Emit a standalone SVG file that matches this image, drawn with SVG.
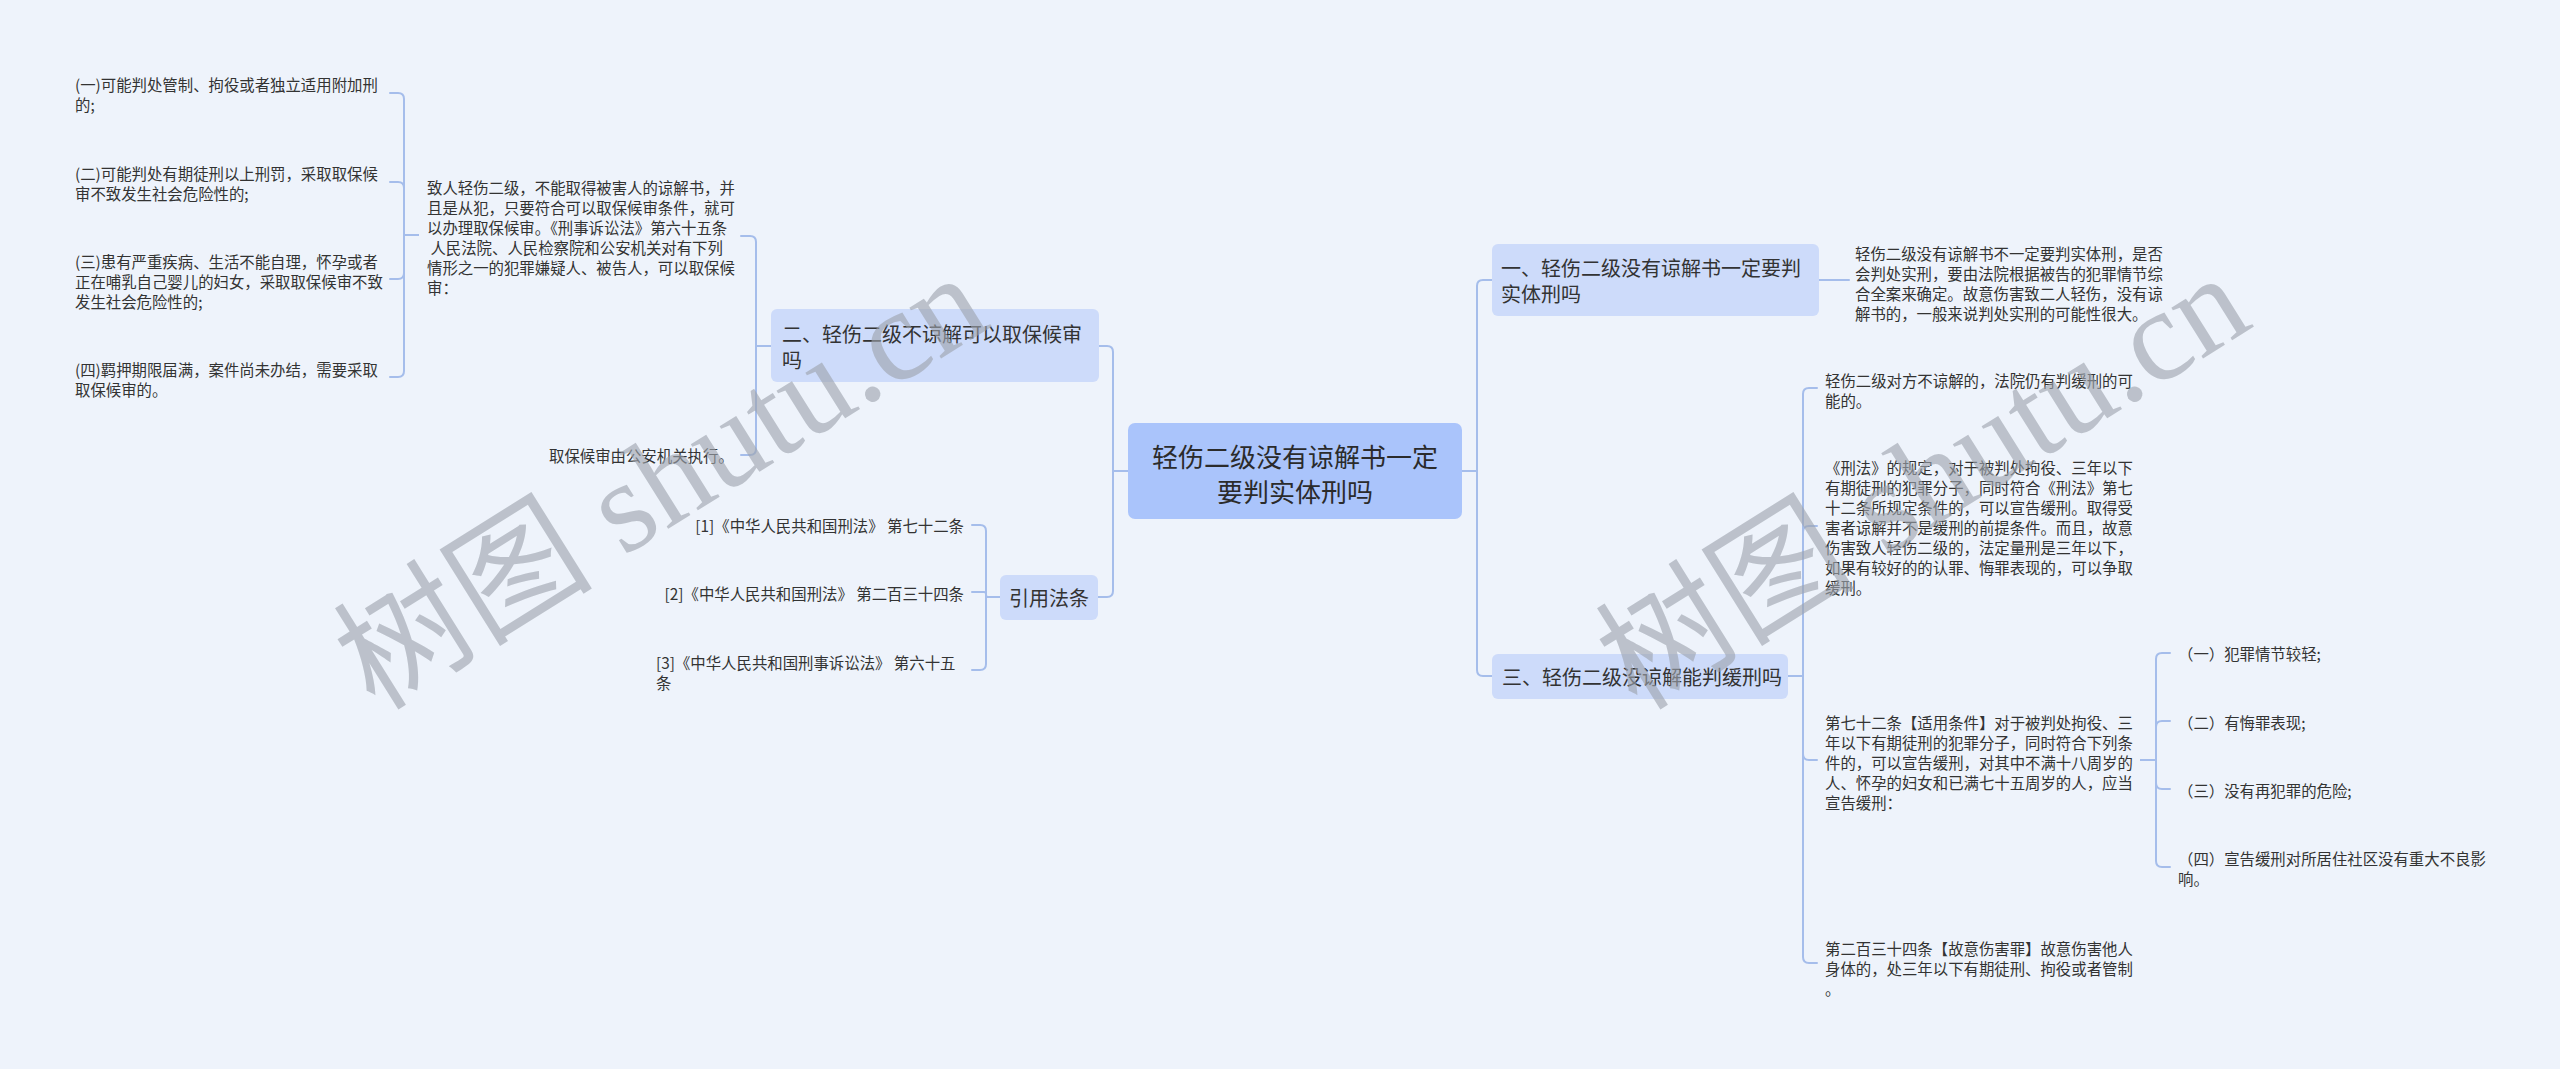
<svg xmlns="http://www.w3.org/2000/svg" width="2560" height="1069" viewBox="0 0 2560 1069">
<style>
.ln{fill:none;stroke:#a5bdeb;stroke-width:2;stroke-linecap:round;stroke-linejoin:round}
.root{fill:#aac4fb}
.n1{fill:#cddbfa}
.t,.tn,.tr{font-family:"Noto Sans CJK SC","Liberation Sans",sans-serif;dominant-baseline:central}
.t{font-size:15.4px;fill:#333}
.tn{font-size:20px;fill:#333}
.tr{font-size:26px;fill:#2b2b2b}
.wm{font-size:130px;fill:#9ea4ae;opacity:0.62}
</style>
<rect width="2560" height="1069" fill="#eef3fb"/>
<g id="connectors">
<path class="ln" d="M1128,471 H1113 V352 Q1113,346 1107,346 H1099"/>
<path class="ln" d="M1128,471 H1113 V591 Q1113,597 1107,597 H1098"/>
<path class="ln" d="M1462,471 H1477 V286 Q1477,280 1483,280 H1492"/>
<path class="ln" d="M1462,471 H1477 V670 Q1477,676 1483,676 H1492"/>
<path class="ln" d="M771,346 H756 V242 Q756,236 750,236 H741"/>
<path class="ln" d="M771,346 H756 V449 Q756,455 750,455 H741"/>
<path class="ln" d="M418,235 H404 V99 Q404,93 398,93 H390"/>
<path class="ln" d="M418,235 H404 V188 Q404,182 398,182 H390"/>
<path class="ln" d="M418,235 H404 V273 Q404,279 398,279 H390"/>
<path class="ln" d="M418,235 H404 V371 Q404,377 398,377 H390"/>
<path class="ln" d="M1000,597 H986 V531 Q986,525 980,525 H972"/>
<path class="ln" d="M1000,597 H988 Q986,597 986,595 V594 Q986,592 984,592 H972"/>
<path class="ln" d="M1000,597 H986 V664 Q986,670 980,670 H972"/>
<path class="ln" d="M1819,280 H1849"/>
<path class="ln" d="M1788,676 H1803 V394 Q1803,388 1809,388 H1817"/>
<path class="ln" d="M1788,676 H1803 V532 Q1803,526 1809,526 H1817"/>
<path class="ln" d="M1788,676 H1803 V754 Q1803,760 1809,760 H1817"/>
<path class="ln" d="M1788,676 H1803 V957 Q1803,963 1809,963 H1817"/>
<path class="ln" d="M2141,760 H2156 V659 Q2156,653 2162,653 H2170"/>
<path class="ln" d="M2141,760 H2156 V727 Q2156,721 2162,721 H2170"/>
<path class="ln" d="M2141,760 H2156 V783 Q2156,789 2162,789 H2170"/>
<path class="ln" d="M2141,760 H2156 V861 Q2156,867 2162,867 H2170"/>
</g>
<g id="root">
<rect class="root" x="1128" y="423" width="334" height="96" rx="7"/>
<text class="tr" x="1295" y="455" text-anchor="middle">轻伤二级没有谅解书一定</text>
<text class="tr" x="1295" y="490" text-anchor="middle">要判实体刑吗</text>
</g>
<g id="node-er">
<rect class="n1" x="771" y="309" width="328" height="73" rx="6"/>
<text class="tn" x="782" y="333">二、轻伤二级不谅解可以取保候审</text>
<text class="tn" x="782" y="359">吗</text>
</g>
<g id="node-yinyong">
<rect class="n1" x="1000" y="575" width="98" height="45" rx="6"/>
<text class="tn" x="1049" y="597" text-anchor="middle">引用法条</text>
</g>
<g id="node-yi">
<rect class="n1" x="1492" y="244" width="327" height="72" rx="6"/>
<text class="tn" x="1501" y="267">一、轻伤二级没有谅解书一定要判</text>
<text class="tn" x="1501" y="293">实体刑吗</text>
</g>
<g id="node-san">
<rect class="n1" x="1492" y="654" width="296" height="45" rx="6"/>
<text class="tn" x="1502" y="676.5">三、轻伤二级没谅解能判缓刑吗</text>
</g>
<g id="leaf-a">
<text class="t" x="427" y="187">致人轻伤二级，不能取得被害人的谅解书，并</text>
<text class="t" x="427" y="207">且是从犯，只要符合可以取保候审条件，就可</text>
<text class="t" x="427" y="227">以办理取保候审。《刑事诉讼法》第六十五条</text>
<text class="t" x="427" y="247" xml:space="preserve"> 人民法院、人民检察院和公安机关对有下列</text>
<text class="t" x="427" y="267">情形之一的犯罪嫌疑人、被告人，可以取保候</text>
<text class="t" x="427" y="287">审：</text>
</g>
<g id="leaf-a1">
<text class="t" x="75" y="84">(一)可能判处管制、拘役或者独立适用附加刑</text>
<text class="t" x="75" y="104">的;</text>
</g>
<g id="leaf-a2">
<text class="t" x="75" y="173">(二)可能判处有期徒刑以上刑罚，采取取保候</text>
<text class="t" x="75" y="193">审不致发生社会危险性的;</text>
</g>
<g id="leaf-a3">
<text class="t" x="75" y="261">(三)患有严重疾病、生活不能自理，怀孕或者</text>
<text class="t" x="75" y="281">正在哺乳自己婴儿的妇女，采取取保候审不致</text>
<text class="t" x="75" y="301">发生社会危险性的;</text>
</g>
<g id="leaf-a4">
<text class="t" x="75" y="369">(四)羁押期限届满，案件尚未办结，需要采取</text>
<text class="t" x="75" y="389">取保候审的。</text>
</g>
<g id="leaf-b">
<text class="t" x="549" y="455">取保候审由公安机关执行。</text>
</g>
<g id="cite-1">
<text class="t" x="964" y="525" text-anchor="end">[1]《中华人民共和国刑法》 第七十二条</text>
</g>
<g id="cite-2">
<text class="t" x="964" y="592.5" text-anchor="end">[2]《中华人民共和国刑法》 第二百三十四条</text>
</g>
<g id="cite-3">
<text class="t" x="656" y="662">[3]《中华人民共和国刑事诉讼法》 第六十五</text>
<text class="t" x="656" y="682">条</text>
</g>
<g id="leaf-yi">
<text class="t" x="1855" y="253">轻伤二级没有谅解书不一定要判实体刑，是否</text>
<text class="t" x="1855" y="273">会判处实刑，要由法院根据被告的犯罪情节综</text>
<text class="t" x="1855" y="293">合全案来确定。故意伤害致二人轻伤，没有谅</text>
<text class="t" x="1855" y="313">解书的，一般来说判处实刑的可能性很大。</text>
</g>
<g id="leaf-s1">
<text class="t" x="1825" y="380">轻伤二级对方不谅解的，法院仍有判缓刑的可</text>
<text class="t" x="1825" y="400">能的。</text>
</g>
<g id="leaf-s2">
<text class="t" x="1825" y="467">《刑法》的规定，对于被判处拘役、三年以下</text>
<text class="t" x="1825" y="487">有期徒刑的犯罪分子，同时符合《刑法》第七</text>
<text class="t" x="1825" y="507">十二条所规定条件的，可以宣告缓刑。取得受</text>
<text class="t" x="1825" y="527">害者谅解并不是缓刑的前提条件。而且，故意</text>
<text class="t" x="1825" y="547">伤害致人轻伤二级的，法定量刑是三年以下，</text>
<text class="t" x="1825" y="567">如果有较好的的认罪、悔罪表现的，可以争取</text>
<text class="t" x="1825" y="587">缓刑。</text>
</g>
<g id="leaf-s3">
<text class="t" x="1825" y="722">第七十二条【适用条件】对于被判处拘役、三</text>
<text class="t" x="1825" y="742">年以下有期徒刑的犯罪分子，同时符合下列条</text>
<text class="t" x="1825" y="762">件的，可以宣告缓刑，对其中不满十八周岁的</text>
<text class="t" x="1825" y="782">人、怀孕的妇女和已满七十五周岁的人，应当</text>
<text class="t" x="1825" y="802">宣告缓刑：</text>
</g>
<g id="leaf-s3-1">
<text class="t" x="2178" y="653">（一）犯罪情节较轻;</text>
</g>
<g id="leaf-s3-2">
<text class="t" x="2178" y="721.5">（二）有悔罪表现;</text>
</g>
<g id="leaf-s3-3">
<text class="t" x="2178" y="790">（三）没有再犯罪的危险;</text>
</g>
<g id="leaf-s3-4">
<text class="t" x="2178" y="858">（四）宣告缓刑对所居住社区没有重大不良影</text>
<text class="t" x="2178" y="878">响。</text>
</g>
<g id="leaf-s4">
<text class="t" x="1825" y="948">第二百三十四条【故意伤害罪】故意伤害他人</text>
<text class="t" x="1825" y="968">身体的，处三年以下有期徒刑、拘役或者管制</text>
<text class="t" x="1825" y="988">。</text>
</g>
<g id="watermark">
<text class="wm" font-family="'Liberation Serif', 'DejaVu Serif', 'Noto Sans CJK SC', serif" transform="translate(375,712) rotate(-32)">树图 shutu.cn</text>
<text class="wm" font-family="'Liberation Serif', 'DejaVu Serif', 'Noto Sans CJK SC', serif" transform="translate(1637,712) rotate(-32)">树图 shutu.cn</text>
</g>
</svg>
